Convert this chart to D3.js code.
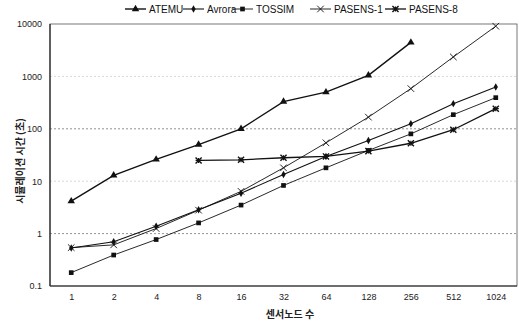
<!DOCTYPE html>
<html>
<head>
<meta charset="utf-8">
<script src="https://cdn.jsdelivr.net/npm/d3@7"></script>
<style>
  body { margin: 0; background: #fff; }
  text { font-family: "Liberation Sans", Arial, sans-serif; }
</style>
</head>
<body>
<div id="chart"></div>
<script>
const width = 519;
const height = 323;

const nodes = ["1", "2", "4", "8", "16", "32", "64", "128", "256", "512", "1024"];
const atemu = [4.15, 12.9, 26, 50, 100, 330, 500, 1050, 4450, null, null];
const avrora = [0.53, 0.7, 1.38, 2.84, 5.9, 13.4, 29.7, 60, 125, 302, 627];
const tossim = [0.18, 0.39, 0.77, 1.6, 3.5, 8.3, 18, 38.6, 80, 186, 393];
const pasens1 = [0.54, 0.61, 1.25, 2.8, 6.4, 18, 54, 167, 585, 2350, 9080];
const pasens8 = [null, null, null, 24.9, 25.6, 28, 29.7, 37.5, 53, 96, 242];
const yTicks = [0.1, 1, 10, 100, 1000, 10000];

const series = [
  { name: "ATEMU", values: atemu, symbol: "triangle", lw: 1.4 },
  { name: "Avrora", values: avrora, symbol: "diamond", lw: 1.1 },
  { name: "TOSSIM", values: tossim, symbol: "square", lw: 0.9 },
  { name: "PASENS-1", values: pasens1, symbol: "cross", lw: 0.9 },
  { name: "PASENS-8", values: pasens8, symbol: "asterisk", lw: 1.3 }
];

const plotLeft = 50, plotRight = 517, plotTop = 24, plotBottom = 286;

const svg = d3.select("#chart").append("svg")
  .attr("width", width)
  .attr("height", height);

const x = d3.scalePoint().domain(nodes).range([plotLeft, plotRight]).padding(0.5);
const y = d3.scaleLog().domain([0.1, 10000]).range([plotBottom, plotTop]);

// grid
svg.append("g").selectAll("line")
  .data(yTicks.slice(1, -1))
  .enter().append("line")
  .attr("x1", plotLeft).attr("x2", plotRight)
  .attr("y1", d => y(d)).attr("y2", d => y(d))
  .attr("stroke", d => (d == 1 || d == 100) ? "#777" : "#ccc")
  .attr("stroke-width", 0.8)
  .attr("stroke-dasharray", "2,2");

// frame
svg.append("rect")
  .attr("x", plotLeft).attr("y", plotTop)
  .attr("width", plotRight - plotLeft).attr("height", plotBottom - plotTop)
  .attr("fill", "none").attr("stroke", "#555").attr("stroke-width", 0.8);
svg.append("line").attr("x1", plotLeft).attr("x2", plotLeft).attr("y1", plotTop).attr("y2", plotBottom)
  .attr("stroke", "#222").attr("stroke-width", 1.2);
svg.append("line").attr("x1", plotLeft).attr("x2", plotRight).attr("y1", plotBottom).attr("y2", plotBottom)
  .attr("stroke", "#222").attr("stroke-width", 1.2);

// axes
const yAxis = svg.append("g")
  .attr("transform", `translate(${plotLeft},0)`)
  .call(d3.axisLeft(y).tickValues(yTicks).tickFormat(d3.format("~g")).tickSize(0).tickPadding(8));
yAxis.select(".domain").remove();
yAxis.selectAll("text").attr("font-size", 9).attr("fill", "#222");

const xAxis = svg.append("g")
  .attr("transform", `translate(0,${plotBottom})`)
  .call(d3.axisBottom(x).tickSize(0).tickPadding(8));
xAxis.select(".domain").remove();
xAxis.selectAll("text").attr("font-size", 9).attr("fill", "#222");

svg.append("text")
  .attr("x", 290).attr("y", 318)
  .attr("text-anchor", "middle")
  .attr("font-size", 10).attr("font-weight", "bold")
  .style("font-family", "'Noto Sans CJK KR', sans-serif")
  .attr("fill", "#222")
  .text("센서노드 수");

svg.append("text")
  .attr("transform", "translate(24,161) rotate(-90)")
  .attr("text-anchor", "middle")
  .attr("font-size", 10).attr("font-weight", "bold")
  .style("font-family", "'Noto Sans CJK KR', sans-serif")
  .attr("fill", "#222")
  .text("시뮬레이션 시간 (초)");

function drawSymbol(g, type, cx, cy) {
  const k = "#111";
  if (type == "triangle") {
    g.append("path").attr("d", d3.symbol(d3.symbolTriangle, 24)())
      .attr("transform", `translate(${cx},${cy})`).attr("fill", k);
  } else if (type == "diamond") {
    g.append("path").attr("d", d3.symbol(d3.symbolDiamond, 16)())
      .attr("transform", `translate(${cx},${cy})`).attr("fill", k);
  } else if (type == "square") {
    g.append("path").attr("d", d3.symbol(d3.symbolSquare, 22)())
      .attr("transform", `translate(${cx},${cy})`).attr("fill", k);
  } else if (type == "cross") {
    g.append("path").attr("d", d3.symbol(d3.symbolX, 30)())
      .attr("transform", `translate(${cx},${cy})`).attr("fill", "none")
      .attr("stroke", k).attr("stroke-width", 0.9);
  } else {
    g.append("path").attr("d", d3.symbol(d3.symbolX, 26)())
      .attr("transform", `translate(${cx},${cy})`).attr("fill", "none")
      .attr("stroke", k).attr("stroke-width", 1.4);
    g.append("path").attr("d", "M-3,0H3M0,-2.5V2.5")
      .attr("transform", `translate(${cx},${cy})`).attr("stroke", k).attr("stroke-width", 1.2);
  }
}

const line = d3.line()
  .defined(d => d != null)
  .x((d, i) => x(nodes[i]))
  .y(d => y(d));

series.forEach(s => {
  const g = svg.append("g");
  g.append("path")
    .attr("d", line(s.values))
    .attr("fill", "none")
    .attr("stroke", "#111")
    .attr("stroke-width", s.lw);
  s.values.forEach((v, i) => {
    if (v != null) drawSymbol(g, s.symbol, x(nodes[i]), y(v));
  });
});

// legend
const legendX = [125, 183, 232, 310, 385];
const legend = svg.append("g");
series.forEach((s, i) => {
  const lx = legendX[i];
  legend.append("line")
    .attr("x1", lx).attr("x2", lx + 21).attr("y1", 9).attr("y2", 9)
    .attr("stroke", "#111").attr("stroke-width", s.lw);
  drawSymbol(legend, s.symbol, lx + 10.5, 9);
  legend.append("text")
    .attr("x", lx + 24).attr("y", 12.5)
    .attr("font-size", 10).attr("fill", "#111")
    .text(s.name);
});
</script>
</body>
</html>
